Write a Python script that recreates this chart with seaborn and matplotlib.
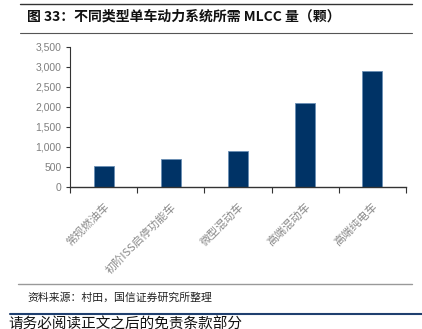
import matplotlib
matplotlib.use("Agg")
import matplotlib.pyplot as plt
import seaborn as sns
import pandas as pd
from matplotlib.lines import Line2D

categories = ["常规燃油车", "初阶ISS启停功能车", "微型混动车", "高端混动车", "高端纯电车"]
values = [525, 700, 900, 2100, 2900]
yticks = [0, 500, 1000, 1500, 2000, 2500, 3000, 3500]

sns.set_theme(style="white")
plt.rcParams['font.family'] = ['Noto Sans CJK SC', 'DejaVu Sans']

df = pd.DataFrame({"cat": categories, "val": values})

fig = plt.figure(figsize=(4.22, 3.29), dpi=100)
ax = fig.add_axes([70/422, 1-187/329, 336/422, 140/329])
sns.barplot(data=df, x="cat", y="val", ax=ax, color="#003366", width=0.3,
            saturation=1, edgecolor="#6a8fb5", linewidth=0.6)

ax.set_ylim(0, 3500)
ax.set_xlim(-0.5, 4.5)
ax.set_yticks(yticks)
ax.set_yticklabels([f"{v:,}" for v in yticks], color="#7f7f7f", fontsize=7.5,
                   family=['Liberation Sans', 'DejaVu Sans'])
ax.set_xlabel("")
ax.set_ylabel("")
ax.set_xticks(range(len(categories)))
ax.set_xticklabels(categories, rotation=45, ha="right", rotation_mode="anchor",
                   color="#8a8a8a", fontsize=8)
ax.tick_params(axis="x", length=0, pad=10)
ax.tick_params(axis="y", length=3, width=0.8, color="#333333", direction="out", pad=3, left=True)
# boundary ticks on x axis
ax.set_xticks([i - 0.5 for i in range(len(categories) + 1)], minor=True)
ax.tick_params(axis="x", which="minor", length=4, width=0.8, color="#333333", direction="out", bottom=True)

for s in ["top", "right"]:
    ax.spines[s].set_visible(False)
ax.spines["left"].set_color("#333333")
ax.spines["left"].set_linewidth(0.8)
ax.spines["bottom"].set_color("#333333")
ax.spines["bottom"].set_linewidth(1.0)

def hline(y, x0, x1, color, lw):
    fig.add_artist(Line2D([x0/422, x1/422], [1-y/329, 1-y/329], color=color, lw=lw,
                          transform=fig.transFigure))

hline(3.5, 20, 412, "#333333", 1.0)
hline(32.5, 20, 412, "#555555", 0.8)
hline(284, 18, 412, "#999999", 1.0)
hline(313.5, 10, 422, "#1f3f6f", 1.5)

fig.text(27/422, 1-17/329, "图 33：不同类型单车动力系统所需 MLCC 量（颗）", fontsize=10,
         fontweight="bold", va="center", ha="left", color="#111111")
fig.text(27/422, 1-298/329, "资料来源：村田，国信证券研究所整理", fontsize=7.8,
         va="center", ha="left", color="#222222")
fig.text(8/422, 1-325/329, "请务必阅读正文之后的免责条款部分", fontsize=10.5,
         va="center", ha="left", color="#111111")

fig.savefig("out.png", dpi=100)
